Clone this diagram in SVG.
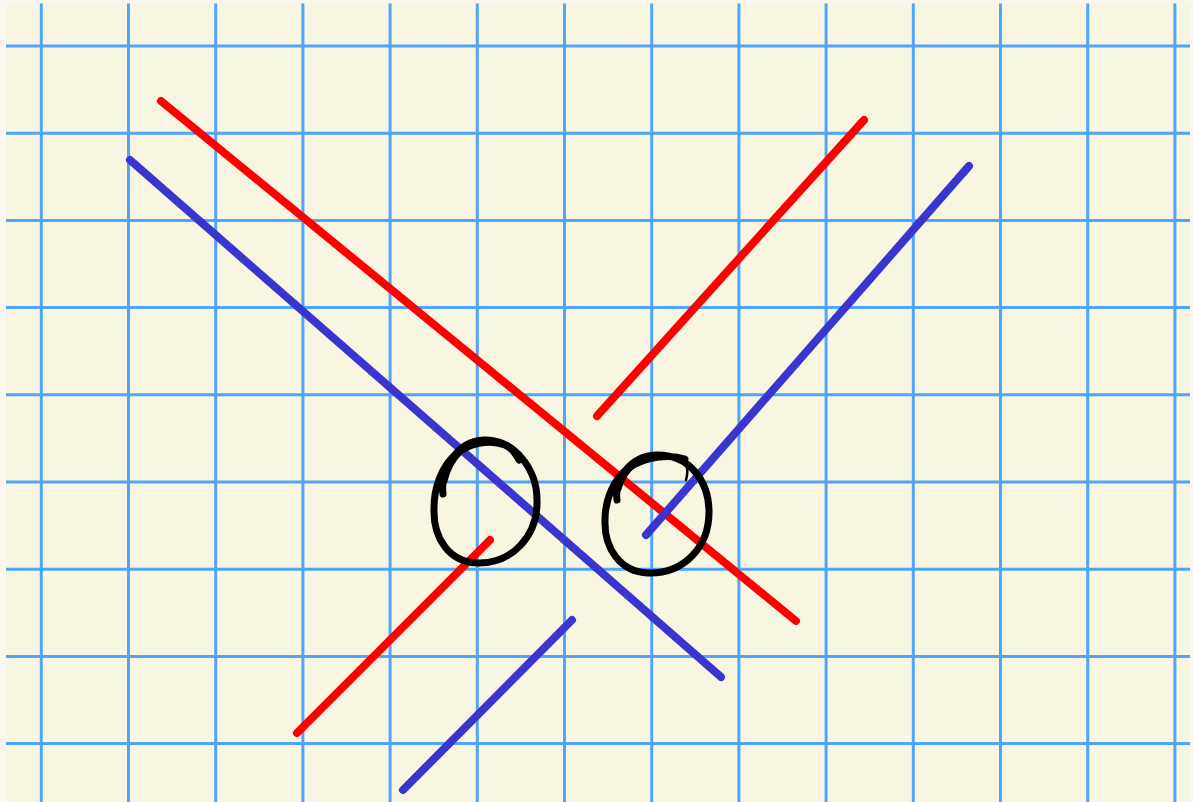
<svg xmlns="http://www.w3.org/2000/svg" width="1193" height="802" viewBox="0 0 1193 802">
<style>
.grid line{stroke:#4fa5fb;stroke-width:3}
.red{stroke:#ff0000;stroke-width:8;stroke-linecap:round;fill:none}
.blue{stroke:#3a35cf;stroke-width:8;stroke-linecap:round;fill:none}
.ring{stroke:#000;stroke-width:7;fill:none;stroke-linecap:round;stroke-linejoin:round}
.ring2{stroke:#000;stroke-width:2.5;fill:none;stroke-linecap:round}
</style>
<rect x="0" y="0" width="1193" height="802" fill="#fbf7ef"/>
<rect x="6" y="3.5" width="1184" height="798.5" fill="#f8f5e1"/>
<g class="grid" id="grid">
<line x1="41.3" y1="3.5" x2="41.3" y2="802"/>
<line x1="128.5" y1="3.5" x2="128.5" y2="802"/>
<line x1="215.7" y1="3.5" x2="215.7" y2="802"/>
<line x1="302.9" y1="3.5" x2="302.9" y2="802"/>
<line x1="390.1" y1="3.5" x2="390.1" y2="802"/>
<line x1="477.3" y1="3.5" x2="477.3" y2="802"/>
<line x1="564.5" y1="3.5" x2="564.5" y2="802"/>
<line x1="651.7" y1="3.5" x2="651.7" y2="802"/>
<line x1="738.9" y1="3.5" x2="738.9" y2="802"/>
<line x1="826.1" y1="3.5" x2="826.1" y2="802"/>
<line x1="913.3" y1="3.5" x2="913.3" y2="802"/>
<line x1="1000.5" y1="3.5" x2="1000.5" y2="802"/>
<line x1="1087.7" y1="3.5" x2="1087.7" y2="802"/>
<line x1="1174.9" y1="3.5" x2="1174.9" y2="802"/>
<line x1="6" y1="46" x2="1190" y2="46"/>
<line x1="6" y1="133.2" x2="1190" y2="133.2"/>
<line x1="6" y1="220.4" x2="1190" y2="220.4"/>
<line x1="6" y1="307.6" x2="1190" y2="307.6"/>
<line x1="6" y1="394.8" x2="1190" y2="394.8"/>
<line x1="6" y1="482" x2="1190" y2="482"/>
<line x1="6" y1="569.2" x2="1190" y2="569.2"/>
<line x1="6" y1="656.4" x2="1190" y2="656.4"/>
<line x1="6" y1="743.6" x2="1190" y2="743.6"/>
</g>
<g id="connectors">
<line class="red" x1="161" y1="101" x2="796" y2="621"/>
<line class="blue" x1="130" y1="160" x2="721" y2="677"/>
<line class="red" x1="864" y1="120" x2="597" y2="416"/>
<line class="blue" x1="969" y1="166" x2="646" y2="535"/>
<line class="red" x1="490" y1="540" x2="297" y2="733"/>
<line class="blue" x1="572" y1="620" x2="403" y2="790"/>
</g>
<g id="circle-left">
<path class="ring" d="M443,494 C440,468 458,441 484,440 C515,439 537,470 537,500 C538,536 512,564 477,563 C449,562 433,538 434,508 C434,487 442,466 456,454 C470,443 490,439 505,445 C512,448 516,454 519,460"/>
<path class="ring2" d="M446,482 C452,456 470,441 490,441 C503,441 513,448 520,458"/>
</g>
<g id="circle-right">
<path class="ring" d="M617,500 C614,477 632,456 656,455 C690,454 709,482 709,512 C709,547 684,574 648,573 C620,572 604,548 605,520 C605,499 614,478 630,467 C648,456 670,454 685,459"/>
<path class="ring2" d="M620,490 C626,468 642,458 660,457 C675,457 684,461 687,468 C688,472 687,476 686,480"/>
</g>
</svg>
